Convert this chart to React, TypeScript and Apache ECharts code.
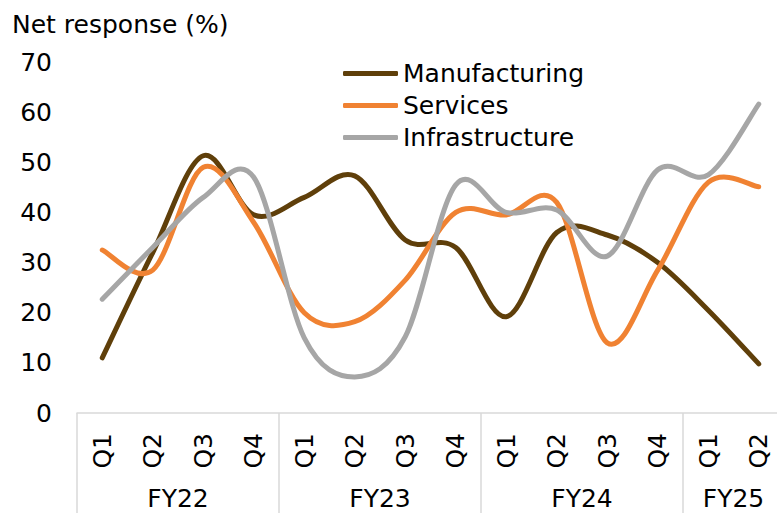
import React, { useEffect, useRef } from "react";
import * as echarts from "echarts";

const categories = ["Q1", "Q2", "Q3", "Q4", "Q1", "Q2", "Q3", "Q4", "Q1", "Q2", "Q3", "Q4", "Q1", "Q2"];
const fiscalYears = ["FY22", "FY23", "FY24", "FY25"];
const fiscalYearCenters = [2, 6, 10, 13];
const fiscalYearStarts = [0, 4, 8, 12];
const manufacturing = [11, 32, 51.3, 39.5, 43, 47.3, 34.5, 33, 19.2, 36, 35.5, 30, 20.5, 9.8];
const services = [32.5, 28.5, 49, 38, 20, 18.2, 26.5, 40, 39.5, 42, 14, 28.5, 46, 45.1];
const infrastructure = [22.7, 33, 43, 47, 15, 7.2, 15.2, 45.5, 40, 40.5, 31.3, 48.5, 47.5, 61.6];
const yTicks = [0, 10, 20, 30, 40, 50, 60, 70];

const FONT = "DejaVu Sans";
const FS = 25;

function smoothSeries(name: string, values: number[], color: string) {
  return {
    name,
    type: "custom",
    xAxisIndex: 0,
    yAxisIndex: 0,
    itemStyle: { color },
    clip: false,
    data: values.map((v, i) => [i, v]),
    encode: { x: 0, y: 1 },
    renderItem: (params: any, api: any) => {
      if (params.dataIndex !== 0) return null;
      const pts = values.map((v, i) => api.coord([i, v]));
      const n = pts.length;
      let d = `M${pts[0][0]},${pts[0][1]}`;
      for (let i = 0; i < n - 1; i++) {
        const p0 = pts[Math.max(0, i - 1)];
        const p1 = pts[i];
        const p2 = pts[i + 1];
        const p3 = pts[Math.min(n - 1, i + 2)];
        const c1x = p1[0] + (p2[0] - p0[0]) / 6;
        const c1y = p1[1] + (p2[1] - p0[1]) / 6;
        const c2x = p2[0] - (p3[0] - p1[0]) / 6;
        const c2y = p2[1] - (p3[1] - p1[1]) / 6;
        d += ` C${c1x},${c1y} ${c2x},${c2y} ${p2[0]},${p2[1]}`;
      }
      return {
        type: "path",
        shape: { pathData: d },
        style: { fill: "none", stroke: color, lineWidth: 5, lineCap: "round", lineJoin: "round" },
      };
    },
  };
}

export default function App() {
  const ref = useRef<HTMLDivElement>(null);
  useEffect(() => {
    document.body.style.margin = "0";
    if (!ref.current) return;
    const chart = echarts.init(ref.current, undefined, { renderer: "svg" });
    const gray = "#d9d9d9";
    chart.setOption({
      animation: false,
      textStyle: { fontFamily: FONT },
      grid: { left: 77, width: 707, top: 62, height: 351, containLabel: false, outerBoundsMode: "none" },
      graphic: [
        {
          type: "text",
          left: 12,
          top: 12,
          style: { text: "Net response (%)", fontSize: FS, fontFamily: FONT, fill: "#000" },
        },
      ],
      legend: {
        orient: "vertical",
        left: 343,
        top: 61,
        padding: 0,
        icon: "roundRect",
        itemWidth: 55,
        itemHeight: 5,
        itemGap: 7,
        textStyle: { fontSize: FS, fontFamily: FONT, color: "#000", lineHeight: 25 },
        data: ["Manufacturing", "Services", "Infrastructure"],
      },
      xAxis: [
        {
          type: "category",
          data: categories,
          boundaryGap: true,
          axisLine: { show: true, lineStyle: { color: gray, width: 1.5 } },
          axisTick: {
            show: true,
            length: 110,
            interval: (i: number) => fiscalYearStarts.includes(i),
            lineStyle: { color: gray, width: 1.5 },
          },
          axisLabel: { rotate: 90, fontSize: FS, margin: 20, color: "#000", fontFamily: FONT, interval: 0 },
          splitLine: { show: false },
        },
        {
          type: "value",
          position: "bottom",
          min: 0,
          max: 14,
          interval: 1,
          axisLine: { show: false },
          axisTick: { show: false },
          splitLine: { show: false },
          axisLabel: {
            margin: 75,
            fontSize: FS,
            lineHeight: 21,
            color: "#000",
            fontFamily: FONT,
            formatter: (v: number) => {
              const idx = fiscalYearCenters.indexOf(v);
              return idx >= 0 ? fiscalYears[idx] : "";
            },
          },
        },
      ],
      yAxis: {
        type: "value",
        min: yTicks[0],
        max: yTicks[yTicks.length - 1],
        interval: 10,
        axisLine: { show: false },
        axisTick: { show: false },
        splitLine: { show: false },
        axisLabel: { fontSize: FS, color: "#000", margin: 25, fontFamily: FONT },
      },
      series: [
        smoothSeries("Manufacturing", manufacturing, "#5f3f0a"),
        smoothSeries("Services", services, "#f08232"),
        smoothSeries("Infrastructure", infrastructure, "#a6a6a6"),
      ],
    });
    return () => chart.dispose();
  }, []);
  return <div ref={ref} style={{ width: 777, height: 513 }} />;
}
